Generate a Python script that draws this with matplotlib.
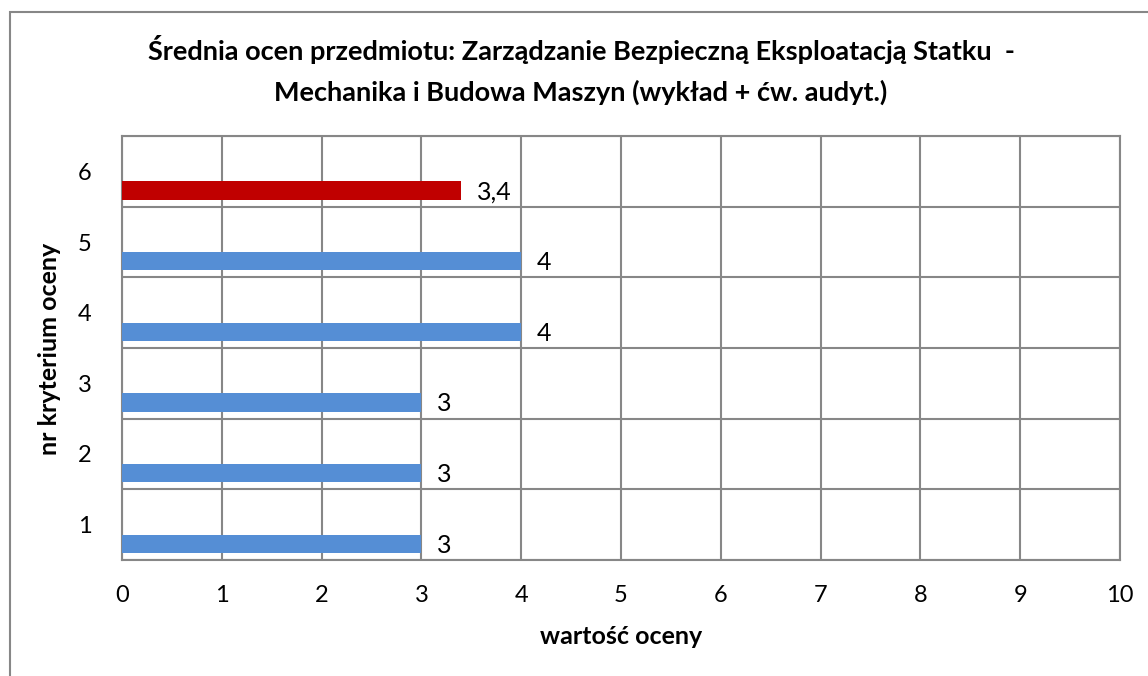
import numpy as np
import matplotlib.pyplot as plt
from matplotlib.patches import Rectangle

plt.rcParams['font.family'] = ['Lato', 'DejaVu Sans']

# data
criteria = [1, 2, 3, 4, 5, 6]
values = [3, 3, 3, 4, 4, 3.4]
labels = ['3', '3', '3', '4', '4', '3,4']
colors = ['#558ED5'] * 5 + ['#C00000']

W, H = 1148, 676
fig = plt.figure(figsize=(W / 100, H / 100), dpi=100)
ax = fig.add_axes([122 / W, 1 - 560 / H, (1120 - 122) / W, (560 - 136) / H])

# bars sit in the lower part of each category band
y = np.array(criteria) - 0.27
ax.barh(y, values, height=0.26, color=colors, zorder=3)
for yi, v, lab in zip(y, values, labels):
    ax.text(v + 0.16, yi - 0.02, lab, va='center', ha='left', fontsize=18, color='black')

ax.set_xlim(0, 10)
ax.set_ylim(0.5, 6.5)
ax.set_xticks(range(11))
ax.set_yticks(criteria)
ax.set_yticks(np.arange(0.5, 6.6, 1), minor=True)
ax.tick_params(axis='both', which='both', length=0, labelsize=17)
ax.tick_params(axis='x', pad=18)
ax.tick_params(axis='y', pad=22)
ax.grid(axis='x', which='major', color='#878787', linewidth=1.5, zorder=0)
ax.grid(axis='y', which='minor', color='#878787', linewidth=1.5, zorder=0)
for s in ax.spines.values():
    s.set_color('#878787')
    s.set_linewidth(1.5)

fig.text(581 / W, 1 - 50 / H, 'Średnia ocen przedmiotu: Zarządzanie Bezpieczną Eksploatacją Statku  -',
         ha='center', va='center', fontsize=19.5, fontweight='bold')
fig.text(581 / W, 1 - 92 / H, 'Mechanika i Budowa Maszyn (wykład + ćw. audyt.)',
         ha='center', va='center', fontsize=19.5, fontweight='bold')
fig.text(621 / W, 1 - 636 / H, 'wartość oceny', ha='center', va='center', fontsize=18, fontweight='bold')
fig.text(50 / W, 1 - 349 / H, 'nr kryterium oceny', ha='center', va='center', rotation=90,
         fontsize=18, fontweight='bold')

# outer chart border
fig.patches.append(Rectangle((10 / W, -0.05), 1.1, 1 - 12 / H + 0.05, transform=fig.transFigure,
                             fill=False, edgecolor='#878787', linewidth=1.5))

fig.savefig('out.png', dpi=100)
